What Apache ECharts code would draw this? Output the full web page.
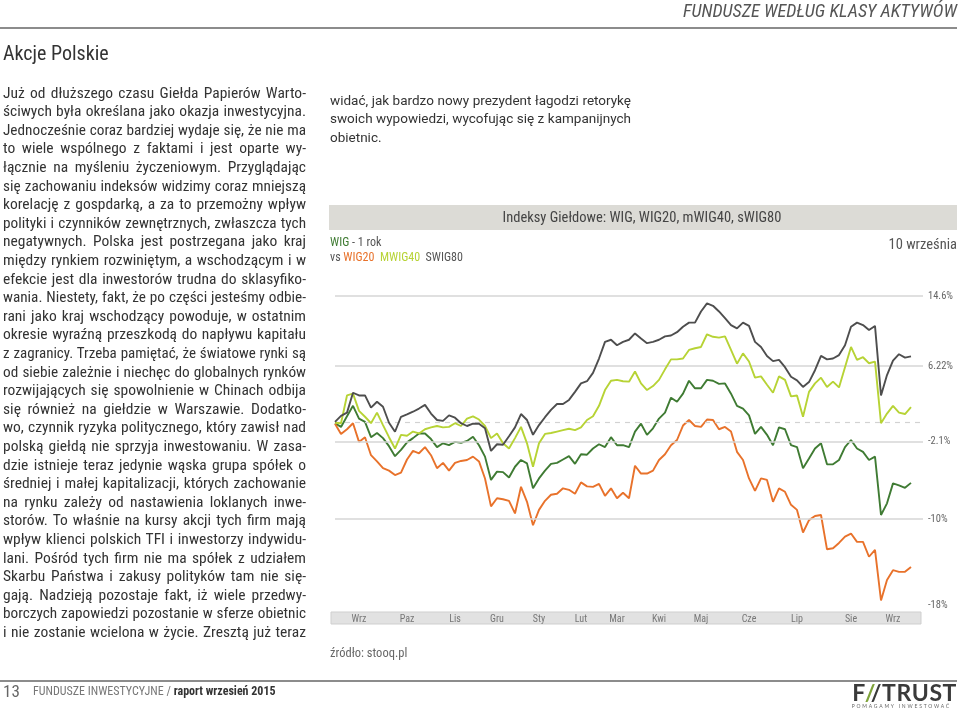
<!DOCTYPE html>
<html><head><meta charset="utf-8">
<script src="https://cdn.jsdelivr.net/npm/echarts@6/dist/echarts.min.js"></script>
<style>
html,body{margin:0;padding:0;background:#fff;}
#page{position:relative;width:960px;height:712px;overflow:hidden;font-family:"Roboto Condensed","Liberation Sans Narrow","DejaVu Sans Condensed",Roboto,sans-serif;color:#333;}
#chart{position:absolute;left:0;top:0;width:960px;height:712px;z-index:0;}
.abs{position:absolute;white-space:nowrap;z-index:1;}
.col{position:absolute;z-index:1;}
.col div{height:18.6px;line-height:18.6px;text-align:justify;text-align-last:justify;overflow:visible;}
.col div.last{text-align:left;text-align-last:left;}
#midCol{font-family:Roboto,"Liberation Sans",sans-serif;color:#333;}
.rule{position:absolute;left:0;width:957px;height:2px;background:#8c8c8c;z-index:1;}
</style></head>
<body><div id="page">
<div id="chart"></div>
<div class="abs" id="hdr" style="right:3px;top:0px;font-size:18.3px;font-style:italic;color:#555;">FUNDUSZE WEDŁUG KLASY AKTYWÓW</div>
<div class="rule" style="top:27px;"></div>
<div class="abs" style="left:3px;top:41px;font-size:20px;color:#333;">Akcje Polskie</div>
<div class="col" id="leftCol" style="left:3px;top:83.7px;width:303px;"></div>
<div class="col" id="midCol" style="left:330px;top:90.7px;width:301px;"></div>
<div class="rule" style="top:680px;"></div>
<div class="abs" style="left:3px;top:681px;font-size:17px;color:#666;">13</div>
<div class="abs" style="left:33px;top:684px;font-size:12px;color:#777;">FUNDUSZE INWESTYCYJNE / <b style="color:#333;">raport wrzesień 2015</b></div>
<div class="abs" style="right:3px;top:678px;font-family:Lato,'Liberation Sans',sans-serif;font-weight:700;font-size:23px;color:#3a3a3a;letter-spacing:0.6px;">F<span style="color:#7fa33a;">/</span>/TRUST</div>
<div class="abs" style="right:9px;top:703px;font-family:Lato,'Liberation Sans',sans-serif;font-size:5px;color:#666;letter-spacing:1.8px;">POMAGAMY INWESTOWAĆ</div>
</div>
<script>
// ---- text content ----
const leftLines = [
"Już od dłuższego czasu Giełda Papierów Warto-",
"ściwych była określana jako okazja inwestycyjna.",
"Jednocześnie coraz bardziej wydaje się, że nie ma",
"to wiele wspólnego z faktami i jest oparte wy-",
"łącznie na myśleniu życzeniowym. Przyglądając",
"się zachowaniu indeksów widzimy coraz mniejszą",
"korelację z gospdarką, a za to przemożny wpływ",
"polityki i czynników zewnętrznych, zwłaszcza tych",
"negatywnych. Polska jest postrzegana jako kraj",
"między rynkiem rozwiniętym, a wschodzącym i w",
"efekcie jest dla inwestorów trudna do sklasyfiko-",
"wania. Niestety, fakt, że po części jesteśmy odbie-",
"rani jako kraj wschodzący powoduje, w ostatnim",
"okresie wyraźną przeszkodą do napływu kapitału",
"z zagranicy. Trzeba pamiętać, że światowe rynki są",
"od siebie zależnie i niechęc do globalnych rynków",
"rozwijających się spowolnienie w Chinach odbija",
"się również na giełdzie w Warszawie. Dodatko-",
"wo, czynnik ryzyka politycznego, który zawisł nad",
"polską giełdą nie sprzyja inwestowaniu. W zasa-",
"dzie istnieje teraz jedynie wąska grupa spółek o",
"średniej i małej kapitalizacji, których zachowanie",
"na rynku zależy od nastawienia loklanych inwe-",
"storów. To właśnie na kursy akcji tych firm mają",
"wpływ klienci polskich TFI i inwestorzy indywidu-",
"lani. Pośród tych firm nie ma spółek z udziałem",
"Skarbu Państwa i zakusy polityków tam nie się-",
"gają. Nadzieją pozostaje fakt, iż wiele przedwy-",
"borczych zapowiedzi pozostanie w sferze obietnic",
"i nie zostanie wcielona w życie. Zresztą już teraz"
];
const midLines = [
"widać, jak bardzo nowy prezydent łagodzi retorykę",
"swoich wypowiedzi, wycofując się z kampanijnych",
"obietnic."
];

// ---- chart data (percent change, 1 year to 10 Sept 2015) ----
const seriesNames = ['WIG', 'WIG20', 'MWIG40', 'SWIG80'];
const wig = [-0.15,-0.55,0.6,1.75,0.35,0,-1.65,-1.2,-1.75,-2.6,-3.65,-3.0,-2.2,-1.75,-1.25,-1.25,-1.85,-2.7,-2.3,-2.5,-2.15,-2.25,-2.05,-1.6,
-2.5,-3.7,-6.1,-5.25,-5.3,-5.85,-4.75,-4.05,-4.4,-6.95,-5.95,-5.15,-4.45,-4.35,-4.0,-3.65,-4.45,-3.45,-3.5,-2.85,-2.4,-2.7,-1.65,-2.5,
-2.5,-2.7,-1.05,-0.2,-1.4,-0.7,0.35,1.0,2.65,2.2,3.1,4.55,3.7,3.7,4.65,4.55,4.2,4.25,3.1,1.75,1.45,0.7,-1.3,-0.55,
-1.4,-2.5,-0.6,-0.8,-2.5,-2.7,-4.9,-3.9,-2.85,-2.3,-4.5,-4.5,-4.05,-2.7,-1.95,-2.85,-3.2,-4.05,-3.7,-9.6,-8.45,-6.45,-6.65,-6.9,-6.4];
const wig20 = [-0.2,-1.3,-0.8,-0.15,-2.15,-1.65,-3.55,-4.2,-4.9,-5.15,-5.6,-5.35,-4.0,-3.1,-3.35,-2.7,-3.55,-4.9,-4.35,-5.15,-4.35,-4.15,-4.05,-3.7,
-4.2,-5.95,-8.75,-7.95,-8.05,-8.2,-9.45,-6.8,-8.3,-10.6,-9.1,-8.2,-7.6,-7.5,-6.95,-7.1,-7.5,-6.35,-6.75,-6.8,-6.5,-7.7,-6.95,-7.95,
-7.4,-7.95,-4.65,-5.45,-5.45,-5.15,-4.05,-3.45,-2.5,-1.95,-0.4,0.2,-0.45,-0.55,0.25,0.2,-0.8,-0.55,-1.05,-3.2,-4.05,-5.95,-7.2,-5.95,
-6.1,-8.3,-6.95,-7.3,-8.6,-9.1,-11.3,-10.1,-9.7,-9.6,-12.9,-12.8,-12.3,-11.7,-11.4,-12.2,-12.2,-13.6,-12.95,-17.6,-15.75,-14.85,-15.0,-15.0,-14.55];
const mwig40 = [-0.1,-0.15,2.9,3.1,1.2,0.55,-0.15,1.0,-0.35,-1.65,-2.85,-1.4,-1.5,-1.05,-1.25,-0.8,-0.6,-0.45,-0.6,-0.55,-0.15,-0.45,0.35,0.6,
0.25,-0.45,-1.75,-1.25,-2.3,-2.85,-1.75,-0.55,-2.3,-4.75,-2.3,-1.3,-1.2,-1.05,-0.9,-0.75,-0.9,-0.6,0.2,0.6,1.75,3.5,4.55,4.65,
4.5,4.45,5.6,4.25,3.5,3.95,4.65,5.85,7.0,7.0,7.1,8.1,8.3,8.45,9.95,9.65,9.55,9.7,8.1,6.5,7.7,6.75,4.9,5.05,
4.1,3.2,5.05,4.65,2.8,2.9,0.55,3.3,4.25,4.9,3.85,4.45,3.8,6.1,8.45,6.95,7.25,6.55,6.75,-0.15,0.9,1.75,1.0,0.85,1.6];
const swig80 = [0,0.65,1.0,3.2,2.9,2.9,1.55,2.2,1.65,-0.1,-1.07,0.55,0.8,1.1,1.45,1.85,0.9,0.2,0.1,0.7,0.45,-0.15,-0.45,-0.2,
-0.2,-0.7,-3.1,-2.4,-2.45,-1.55,-0.6,0.85,0.2,-1.4,-0.35,0.5,1.3,1.95,1.95,2.4,3.3,4.25,4.5,5.45,7.1,9.05,9.3,8.65,
9.05,9.3,10.05,9.45,8.9,9.05,9.3,9.7,9.8,10.2,10.85,11.35,11.35,12.7,13.7,13.4,12.7,11.9,11.05,10.65,11.35,10.95,9.05,8.45,
7.4,6.8,6.95,6.1,5.0,4.6,3.85,4.4,5.75,7.4,7.0,7.1,7.5,8.65,10.85,11.35,11.05,10.45,10.95,2.9,5.2,6.85,7.6,7.2,7.35];

// month tick labels and the trading-period index where each is printed
const monthLabels = ['Wrz','Paz','Lis','Gru','Sty','Lut','Mar','Kwi','Maj','Cze','Lip','Sie','Wrz'];
const monthIndex  = [4,12,20,27,34,41,47,54,61,69,77,86,93];
const nCategories = 99;

// y reference levels (percent) and their labels
const refLevels = [14.6, 6.22, -2.1, -10, -18];
const refLabels = ['14.6%', '6.22%', '-2.1%', '-10%', '-18%'];

// ---- build text columns ----
function fillCol(id, lines, lastLeft, startFs) {
  const col = document.getElementById(id);
  lines.forEach((t, i) => {
    const d = document.createElement('div');
    d.textContent = t;
    if (lastLeft && i === lines.length - 1) d.className = 'last';
    col.appendChild(d);
    let fs = startFs;
    d.style.fontSize = fs + 'px';
    while (d.scrollHeight > 25 && fs > 9) { fs -= 0.25; d.style.fontSize = fs + 'px'; }
  });
}
fillCol('leftCol', leftLines, false, 15.5);
fillCol('midCol', midLines, true, 14);
// keep mid column in one consistent size (smallest needed)
(function () {
  const divs = document.querySelectorAll('#midCol div');
  let m = 99; divs.forEach(d => { m = Math.min(m, parseFloat(d.style.fontSize)); });
  divs.forEach(d => { d.style.fontSize = m + 'px'; });
})();

// ---- chart ----
const cats = [];
for (let i = 0; i < nCategories; i++) cats.push('');
monthIndex.forEach((k, j) => { cats[k] = monthLabels[j]; });
const toLevel = p => 100 + p; // index level, plotted on a log axis

const FONT = '"Roboto Condensed","Liberation Sans Narrow","DejaVu Sans Condensed",Roboto,sans-serif';
const colors = ['#3f7b33', '#e8722b', '#b7d335', '#4e4e4e'];
const datasets = [wig, wig20, mwig40, swig80];

const markData = refLevels.map((v, i) => ({
  yAxis: toLevel(v), name: refLabels[i],
  lineStyle: { color: i === refLevels.length - 1 ? 'rgba(0,0,0,0)' : '#d6d6d6', width: 1.5, type: 'solid' }
}));
markData.push({ yAxis: toLevel(0), name: '', lineStyle: { color: '#d2d2d2', width: 1.2, type: [5, 5] }, label: { show: false } });

const series = datasets.map((d, k) => ({
  name: seriesNames[k], type: 'line', data: d.map(toLevel), symbol: 'none', smooth: false,
  lineStyle: { width: 1.9, color: colors[k] }, itemStyle: { color: colors[k] }, z: 3 + k,
  silent: true
}));
series[0].markLine = {
  silent: true, symbol: ['none', 'none'], animation: false,
  label: { show: true, position: 'end', formatter: '{b}', color: '#666', fontSize: 10.5, fontFamily: FONT, distance: 5 },
  data: markData
};

const chart = echarts.init(document.getElementById('chart'));
chart.setOption({
  animation: false,
  backgroundColor: 'transparent',
  grid: { left: 335, right: 37, top: 280, bottom: 100 },
  xAxis: {
    type: 'category', boundaryGap: false, data: cats,
    axisLine: { show: false }, axisTick: { show: false }, splitLine: { show: false },
    axisLabel: { interval: 0, fontSize: 10, color: '#777', margin: 2, fontFamily: FONT }
  },
  yAxis: {
    type: 'log', min: 81.38, max: 116.61,
    axisLine: { show: false }, axisTick: { show: false }, axisLabel: { show: false }, splitLine: { show: false }
  },
  graphic: [
    { type: 'rect', z: -1, shape: { x: 329, y: 205, width: 628, height: 25 }, style: { fill: '#dcdbd6' } },
    { type: 'text', x: 642, y: 218, style: { text: 'Indeksy Giełdowe: WIG, WIG20, mWIG40, sWIG80', fontSize: 14.5, fontFamily: FONT, fill: '#444', align: 'center', verticalAlign: 'middle', textAlign: 'center', textVerticalAlign: 'middle' } },
    { type: 'text', x: 330, y: 243, style: { text: '{g|WIG}{n| - 1 rok}', verticalAlign: 'middle', textVerticalAlign: 'middle', rich: { g: { fill: colors[0], fontSize: 12, fontFamily: FONT }, n: { fill: '#555', fontSize: 12, fontFamily: FONT } } } },
    { type: 'text', x: 330, y: 258, style: { text: '{n|vs }{o|WIG20}{n|  }{l|MWIG40}{n|  SWIG80}', verticalAlign: 'middle', textVerticalAlign: 'middle', rich: { o: { fill: colors[1], fontSize: 12, fontFamily: FONT }, l: { fill: colors[2], fontSize: 12, fontFamily: FONT }, n: { fill: '#555', fontSize: 12, fontFamily: FONT } } } },
    { type: 'text', x: 957, y: 245, style: { text: '10 września', fontSize: 14.5, fontFamily: FONT, fill: '#555', align: 'right', verticalAlign: 'middle', textAlign: 'right', textVerticalAlign: 'middle' } },
    { type: 'rect', z: -1, shape: { x: 331, y: 612, width: 590, height: 12 }, style: { fill: '#e2e2e2', stroke: '#cfcfcf', lineWidth: 1 } },
    { type: 'text', x: 330, y: 654, style: { text: 'źródło: stooq.pl', fontSize: 12.5, fontFamily: FONT, fill: '#666', verticalAlign: 'middle', textVerticalAlign: 'middle' } }
  ],
  series: series
});
</script>
</body></html>
